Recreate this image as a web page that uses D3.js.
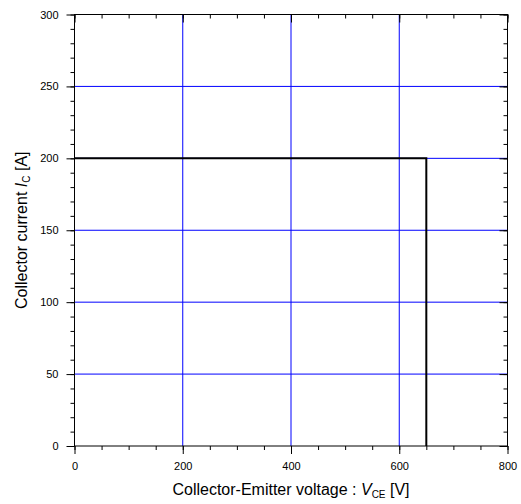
<!DOCTYPE html>
<html><head><meta charset="utf-8">
<script src="https://cdn.jsdelivr.net/npm/d3@7"></script>
<style>body{margin:0;background:#fff}svg{display:block}text{font-family:"Liberation Sans",Arial,sans-serif;fill:#000}</style>
</head><body><svg id="c" width="521" height="504"></svg>
<script>
const xTicks=[0,200,400,600,800];
const yTicks=[0,50,100,150,200,250,300];
const xGrid=[200,400,600];
const yGrid=[50,100,150,200,250];
const vce=[0,650,650];
const ic=[200,200,0];

const svg=d3.select("#c");
const L=74.5,R=507.5,T=14.5,B=446;
const x=d3.scaleLinear().domain([0,800]).range([L,R]);
const y=d3.scaleLinear().domain([0,300]).range([B,T]);

const g=svg.append("g");
g.selectAll(".gx").data(xGrid).enter().append("line")
 .attr("x1",d=>x(d)).attr("x2",d=>x(d)).attr("y1",T).attr("y2",B).attr("stroke","#0000ff").attr("stroke-width",1);
g.selectAll(".gy").data(yGrid).enter().append("line")
 .attr("y1",d=>y(d)).attr("y2",d=>y(d)).attr("x1",L).attr("x2",R).attr("stroke","#0000ff").attr("stroke-width",1);

const line=d3.line().x(d=>x(d[0])).y(d=>y(d[1]));
g.append("path").datum(vce.map((v,i)=>[v,ic[i]])).attr("d",line).attr("fill","none").attr("stroke","#000").attr("stroke-width",2);

const fmt=d3.format("d");
const xMinor=d3.range(0,801,50), yMinor=d3.range(0,301,10);
function ax(axisFn,scale,major,minor,tr,inner,labels){
  const gg=svg.append("g").attr("transform",tr);
  const a=axisFn(scale).tickValues(minor).tickSize(inner?-4:4).tickFormat("");
  gg.call(a);
  const b=axisFn(scale).tickValues(major).tickSize(inner?-8:8).tickPadding(labels?8:0).tickFormat(labels?fmt:"");
  const g2=svg.append("g").attr("transform",tr).call(b);
  [gg,g2].forEach(s=>{s.selectAll("path").attr("stroke","#000");s.selectAll("line").attr("stroke","#000");s.selectAll("text").attr("font-size","11px").attr("font-family","Liberation Sans, Arial, sans-serif");});
  gg.select(".domain").remove();
  g2.select(".domain").remove();
  return g2;
}
ax(d3.axisBottom,x,xTicks,xMinor,`translate(0,${B})`,false,true);
ax(d3.axisTop,x,xTicks,xMinor,`translate(0,${T})`,true,false);
ax(d3.axisLeft,y,yTicks,yMinor,`translate(${L},0)`,false,true);
ax(d3.axisRight,y,yTicks,yMinor,`translate(${R},0)`,true,false);
svg.append("rect").attr("x",L).attr("y",T).attr("width",R-L).attr("height",B-T).attr("fill","none").attr("stroke","#000").attr("stroke-width",1);

const xl=svg.append("text").attr("x",(L+R)/2).attr("y",495).attr("text-anchor","middle").attr("font-size","16px");
xl.append("tspan").text("Collector-Emitter voltage : ");
xl.append("tspan").attr("font-style","italic").text("V");
xl.append("tspan").attr("font-size","10px").attr("dy",3).text("CE");
xl.append("tspan").attr("dy",-3).text(" [V]");

const yl=svg.append("text").attr("transform",`translate(27,${(T+B)/2}) rotate(-90)`).attr("text-anchor","middle").attr("font-size","16px");
yl.append("tspan").text("Collector current ");
yl.append("tspan").attr("font-style","italic").text("I");
yl.append("tspan").attr("font-size","10px").attr("dy",3).text("C");
yl.append("tspan").attr("dy",-3).text(" [A]");
</script></body></html>
